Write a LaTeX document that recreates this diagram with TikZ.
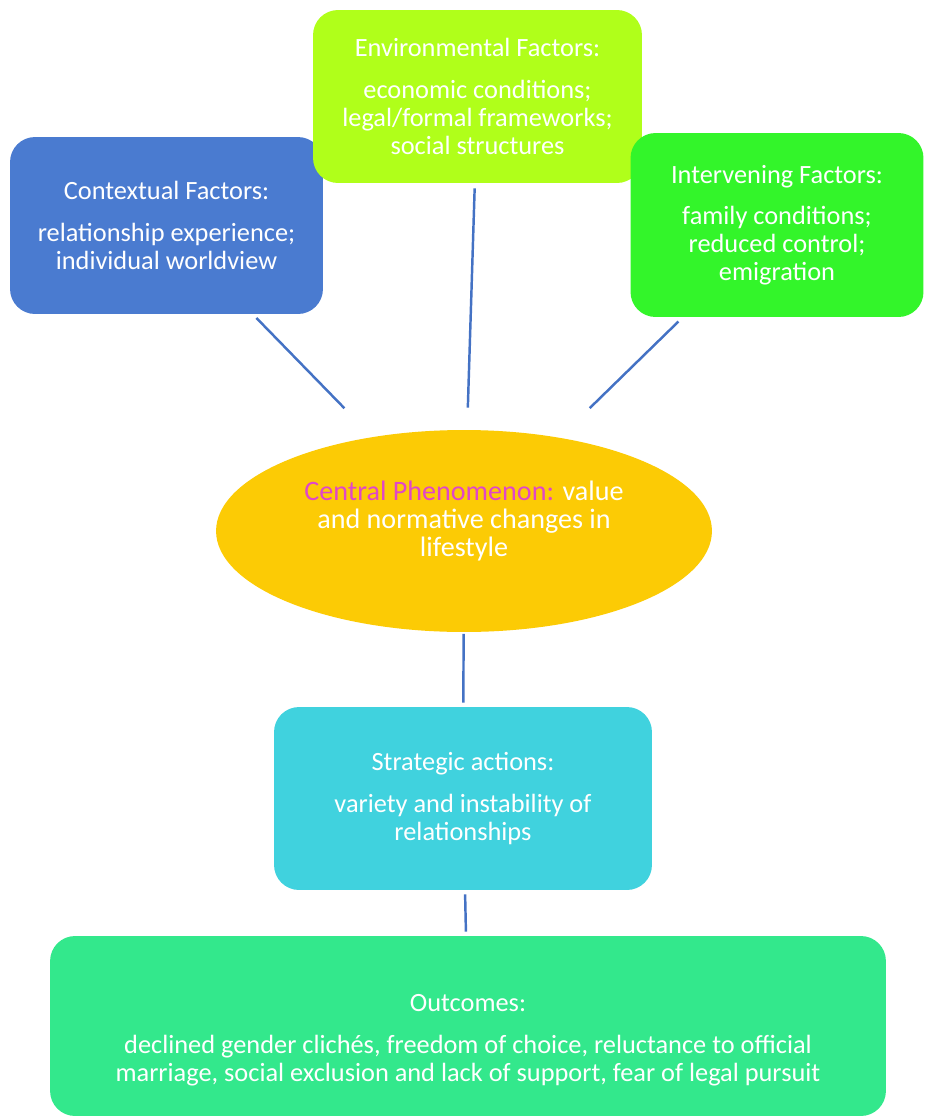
\documentclass[tikz,border=0pt]{standalone}
\usepackage{fontspec}
\setmainfont{Carlito}
\usetikzlibrary{shapes.geometric}
\definecolor{ctxblue}{HTML}{4A7BD0}
\definecolor{envlime}{HTML}{B0FF1A}
\definecolor{intgreen}{HTML}{33F52A}
\definecolor{cenyellow}{HTML}{FCCB05}
\definecolor{stratcyan}{HTML}{40D2DE}
\definecolor{outgreen}{HTML}{33E88C}
\definecolor{phenmagenta}{HTML}{E046C8}
\definecolor{linkblue}{HTML}{4472C4}
\tikzset{
  factorbox/.style={rounded corners=0.5cm, align=center, text=white,
    font=\fontsize{15}{15.8}\selectfont},
  link/.style={draw=linkblue, line width=1.4pt}
}
\begin{document}
\begin{tikzpicture}[x=0.02cm, y=-0.02cm]
\useasboundingbox (0,0) rectangle (926,1116);
\node[factorbox, fill=ctxblue, minimum width=6.26cm, minimum height=3.54cm] (ctx) at (166.5,225.5){Contextual Factors:\\[8pt]relationship experience;\\individual worldview};
\node[factorbox, fill=envlime, minimum width=6.58cm, minimum height=3.46cm] (env) at (477.5,96.5){Environmental Factors:\\[8pt]economic conditions;\\legal/formal frameworks;\\social structures};
\node[factorbox, fill=intgreen, minimum width=5.86cm, minimum height=3.68cm] (int) at (777,225){Intervening Factors:\\[8pt]family conditions;\\reduced control;\\emigration};
\node[ellipse, fill=cenyellow, align=center, text=white, inner sep=0pt, minimum width=9.92cm, minimum height=4.04cm, font=\fontsize{16}{15.8}\selectfont] (cen) at (464,531){\textcolor{phenmagenta}{Central Phenomenon:} value\\and normative changes in\\lifestyle\rule[-14pt]{0pt}{1pt}};
\node[factorbox, fill=stratcyan, minimum width=7.56cm, minimum height=3.66cm] (strat) at (463,798.5){Strategic actions:\\[8pt]variety and instability of\\relationships};
\node[factorbox, fill=outgreen, minimum width=16.72cm, minimum height=3.6cm] (out) at (468,1026){\rule{0pt}{26pt}Outcomes:\\[8pt]declined gender clichés, freedom of choice, reluctance to official\\marriage, social exclusion and lack of support, fear of legal pursuit};
\draw[link, shorten <=0.1cm, shorten >=0.8cm] (ctx) -- (cen);
\draw[link, shorten <=0.1cm, shorten >=0.44cm] (env) -- (cen);
\draw[link, shorten <=0.12cm, shorten >=0.84cm] (int) -- (cen);
\draw[link, shorten <=0.03cm, shorten >=0.08cm] (cen) -- (strat);
\draw[link, shorten <=0.08cm, shorten >=0.08cm] (strat) -- (out);
\end{tikzpicture}
\end{document}
